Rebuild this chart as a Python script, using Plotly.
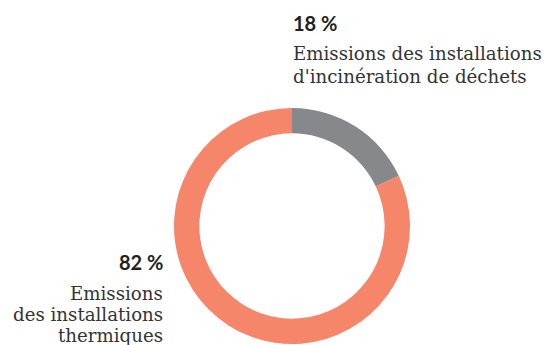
import plotly.graph_objects as go

W, H = 549, 345
labels = ["Emissions des installations d'incinération de déchets", "Emissions des installations thermiques"]
values = [18, 82]
pct_labels = ["18 %", "82 %"]
colors = ["#87888c", "#f5866a"]

fig = go.Figure(go.Pie(
    labels=labels, values=values, sort=False, direction="clockwise", rotation=0,
    hole=0.785, marker=dict(colors=colors, line=dict(width=0)),
    textinfo="none", hoverinfo="skip", showlegend=False,
    domain=dict(x=[174 / W, 410 / W], y=[1 - 344 / H, 1 - 108 / H]),
))

txt = "#231f20"
bold = dict(family="Lato, 'Open Sans', sans-serif", size=20, color=txt)
desc = dict(family="'DejaVu Serif', serif", size=18.2, color="#333")

def px(x):
    return x / W

def py(y):
    return 1 - y / H

ann = [
    dict(text="<b>" + pct_labels[0] + "</b>", x=px(291), y=py(23), xanchor="left", font=bold),
    dict(text="Emissions des installations", x=px(291), y=py(54), xanchor="left", font=desc),
    dict(text="d'incinération de déchets", x=px(291), y=py(76), xanchor="left", font=desc),
    dict(text="<b>" + pct_labels[1] + "</b>", x=px(165), y=py(262), xanchor="right", font=bold),
    dict(text="Emissions", x=px(165), y=py(293), xanchor="right", font=desc),
    dict(text="des installations", x=px(165), y=py(314), xanchor="right", font=desc),
    dict(text="thermiques", x=px(165), y=py(335), xanchor="right", font=desc),
]
for a in ann:
    a.update(xref="paper", yref="paper", yanchor="middle", showarrow=False, align="left")

fig.update_layout(
    width=W, height=H, margin=dict(l=0, r=0, t=0, b=0),
    paper_bgcolor="white", plot_bgcolor="white", annotations=ann,
)
fig.write_html("out.html")
